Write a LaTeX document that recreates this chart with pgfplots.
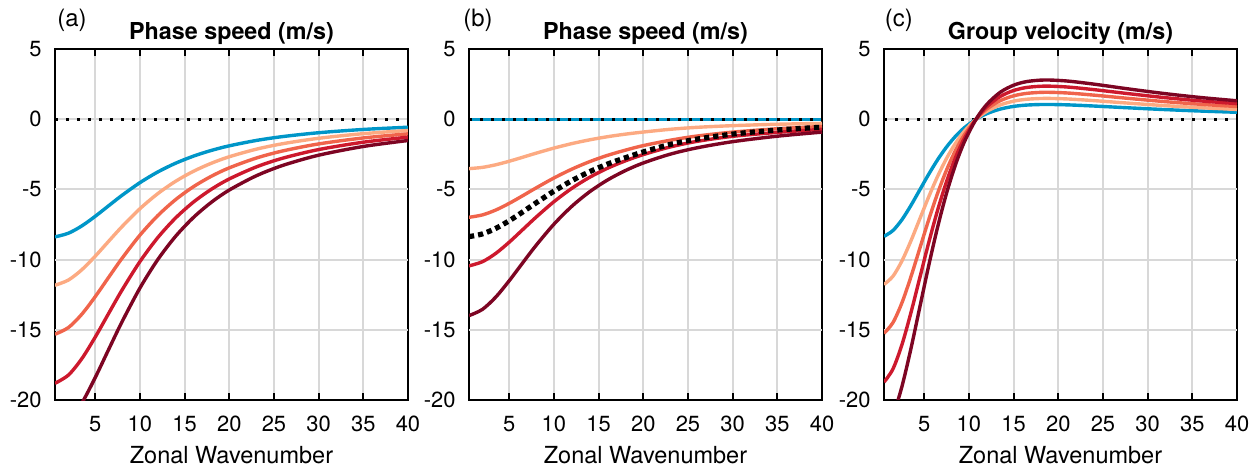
\documentclass[border=0pt]{standalone}
\usepackage{fontspec}
\setmainfont{TeX Gyre Heros}
\usepackage{pgfplots}
\pgfplotsset{compat=1.18}
\definecolor{cblue}{RGB}{0,150,200}
\definecolor{clo}{RGB}{252,170,130}
\definecolor{cor}{RGB}{240,100,75}
\definecolor{cred}{RGB}{205,25,45}
\definecolor{cdr}{RGB}{125,5,35}
\definecolor{cgrid}{RGB}{216,216,216}
\pgfplotsset{
  panel/.style={
    scale only axis, width=176.5bp, height=175.5bp,
    xmin=0.5, xmax=40, ymin=-20, ymax=5,
    xtick={5,10,15,20,25,30,35,40},
    xticklabels={5,10,15,20,25,30,35,40},
    ytick={-20,-15,-10,-5,0,5},
    yticklabels={-20,-15,-10,-5,0,5},
    xmajorgrids=true, ymajorgrids=true,
    major grid style={line width=1bp, color=cgrid},
    axis line style={line width=1.2bp},
    tick align=inside,
    major tick length=3.5bp,
    every tick/.style={black, line width=1bp},
    ticklabel style={font=\fontsize{11}{13}\selectfont},
    xticklabel style={anchor=base, yshift=-15.5bp},
    yticklabel style={anchor=east, inner sep=0pt, xshift=-6.5bp},
    xlabel={Zonal Wavenumber},
    xlabel style={at={(0.5,0)}, anchor=base, yshift=-31.5bp, font=\fontsize{11.8}{14}\selectfont},
    every axis plot/.append style={line width=1.7bp, smooth},
  },
  zeroline/.style={black, line width=1.6bp, dash pattern=on 1.6bp off 3.9bp, sharp plot},
  hgrid/.style={cgrid, line width=1bp, sharp plot, forget plot},
}
\newcommand{\hgrids}{%
  \addplot[hgrid] coordinates {(0.5,-15)(40,-15)};
  \addplot[hgrid] coordinates {(0.5,-10)(40,-10)};
  \addplot[hgrid] coordinates {(0.5,-5)(40,-5)};
  \addplot[hgrid] coordinates {(0.5,0)(40,0)};
}
\begin{document}
\begin{tikzpicture}
\path[use as bounding box] (-27.5bp,-36bp) rectangle (601.5bp,200bp);
% ---------- (a)
\begin{axis}[panel, at={(0bp,0bp)}, anchor=south west]
\hgrids
\addplot[zeroline] coordinates {(0.5,0) (40,0)};
\addplot[cblue] coordinates {(0.5,-8.382)(2,-8.121)(3.5,-7.601)(5,-6.917)(6.5,-6.166)(8,-5.423)(10,-4.522)(12,-3.758)(14,-3.133)(16,-2.629)(18,-2.223)(20,-1.896)(23,-1.517)(26,-1.236)(30,-0.963)(35,-0.730)(40,-0.571)};
\addplot[clo] coordinates {(0.5,-11.825)(2,-11.457)(3.5,-10.723)(5,-9.758)(6.5,-8.698)(8,-7.651)(10,-6.379)(12,-5.302)(14,-4.420)(16,-3.708)(18,-3.136)(20,-2.675)(23,-2.140)(26,-1.743)(30,-1.359)(35,-1.030)(40,-0.805)};
\addplot[cor] coordinates {(0.5,-15.317)(2,-14.841)(3.5,-13.891)(5,-12.640)(6.5,-11.267)(8,-9.910)(10,-8.263)(12,-6.868)(14,-5.726)(16,-4.804)(18,-4.062)(20,-3.465)(23,-2.772)(26,-2.258)(30,-1.761)(35,-1.334)(40,-1.043)};
\addplot[cred] coordinates {(0.5,-18.810)(2,-18.225)(3.5,-17.058)(5,-15.522)(6.5,-13.837)(8,-12.170)(10,-10.147)(12,-8.434)(14,-7.031)(16,-5.899)(18,-4.989)(20,-4.255)(23,-3.405)(26,-2.773)(30,-2.162)(35,-1.638)(40,-1.280)};
\addplot[cdr] coordinates {(0.5,-22.302)(2,-21.609)(3.5,-20.225)(5,-18.404)(6.5,-16.406)(8,-14.430)(10,-12.031)(12,-10.000)(14,-8.337)(16,-6.994)(18,-5.915)(20,-5.045)(23,-4.037)(26,-3.288)(30,-2.564)(35,-1.942)(40,-1.518)};
\end{axis}
% ---------- (b)
\begin{axis}[panel, at={(207bp,0bp)}, anchor=south west]
\hgrids
\addplot[cblue] coordinates {(0.5,0)(40,0)};
\addplot[zeroline] coordinates {(0.5,0) (40,0)};
\addplot[clo] coordinates {(0.5,-3.522)(2,-3.431)(3.5,-3.245)(5,-2.994)(6.5,-2.711)(8,-2.422)(10,-2.058)(12,-1.739)(14,-1.470)(16,-1.247)(18,-1.065)(20,-0.915)(23,-0.72)(26,-0.58)(30,-0.46)(35,-0.36)(40,-0.30)};
\addplot[cor] coordinates {(0.5,-6.988)(2,-6.817)(3.5,-6.468)(5,-5.994)(6.5,-5.454)(8,-4.897)(10,-4.189)(12,-3.560)(14,-3.023)(16,-2.575)(18,-2.205)(20,-1.880)(23,-1.50)(26,-1.20)(30,-0.92)(35,-0.68)(40,-0.52)};
\addplot[cred] coordinates {(0.5,-10.448)(2,-10.151)(3.5,-9.555)(5,-8.759)(6.5,-7.872)(8,-6.981)(10,-5.879)(12,-4.928)(14,-4.138)(16,-3.491)(18,-2.966)(20,-2.520)(23,-1.98)(26,-1.58)(30,-1.22)(35,-0.94)(40,-0.72)};
\addplot[cdr] coordinates {(0.5,-13.990)(2,-13.547)(3.5,-12.665)(5,-11.506)(6.5,-10.239)(8,-8.991)(10,-7.481)(12,-6.207)(14,-5.168)(16,-4.330)(18,-3.659)(20,-3.118)(23,-2.493)(26,-2.040)(30,-1.600)(35,-1.210)(40,-0.920)};
\addplot[black, line width=2.6bp, dash pattern=on 2.6bp off 2bp] coordinates {(0.5,-8.364)(2,-8.171)(3.5,-7.774)(5,-7.232)(6.5,-6.608)(8,-5.960)(10,-5.128)(12,-4.380)(14,-3.737)(16,-3.195)(18,-2.744)(20,-2.33)(23,-1.80)(26,-1.42)(30,-1.06)(35,-0.77)(40,-0.57)};
\end{axis}
% ---------- (c)
\begin{axis}[panel, at={(414.5bp,0bp)}, anchor=south west]
\hgrids
\addplot[zeroline] coordinates {(0.5,0) (40,0)};
\addplot[cblue] coordinates {(0.5,-8.346)(1.5,-7.929)(2.5,-7.162)(3.5,-6.156)(4.5,-5.039)(5.5,-3.922)(6.5,-2.886)(7.5,-1.978)(8.5,-1.218)(9.5,-0.603)(10.8,0)(12,0.395)(13.5,0.720)(15,0.910)(16.5,1.008)(18.5,1.050)(21,1.022)(24,0.938)(28,0.806)(32,0.683)(36,0.579)(40,0.493)};
\addplot[clo] coordinates {(0.5,-11.774)(1.5,-11.186)(2.5,-10.103)(3.5,-8.685)(4.5,-7.109)(5.5,-5.533)(6.5,-4.071)(7.5,-2.791)(8.5,-1.718)(9.5,-0.851)(10.8,0)(12,0.557)(13.5,1.016)(15,1.284)(16.5,1.422)(18.5,1.481)(21,1.442)(24,1.323)(28,1.137)(32,0.964)(36,0.817)(40,0.696)};
\addplot[cor] coordinates {(0.5,-15.252)(1.5,-14.489)(2.5,-13.087)(3.5,-11.250)(4.5,-9.208)(5.5,-7.167)(6.5,-5.274)(7.5,-3.615)(8.5,-2.226)(9.5,-1.102)(10.8,0)(12,0.722)(13.5,1.316)(15,1.663)(16.5,1.842)(18.5,1.918)(21,1.867)(24,1.714)(28,1.473)(32,1.248)(36,1.058)(40,0.901)};
\addplot[cred] coordinates {(0.5,-18.729)(1.5,-17.793)(2.5,-16.071)(3.5,-13.815)(4.5,-11.308)(5.5,-8.801)(6.5,-6.476)(7.5,-4.440)(8.5,-2.733)(9.5,-1.353)(10.8,0)(12,0.887)(13.5,1.616)(15,2.042)(16.5,2.263)(18.5,2.356)(21,2.293)(24,2.105)(28,1.808)(32,1.533)(36,1.299)(40,1.107)};
\addplot[cdr] coordinates {(0.5,-22.207)(1.5,-21.097)(2.5,-19.055)(3.5,-16.380)(4.5,-13.407)(5.5,-10.435)(6.5,-7.679)(7.5,-5.264)(8.5,-3.241)(9.5,-1.605)(10.8,0)(12,1.051)(13.5,1.916)(15,2.421)(16.5,2.683)(18.5,2.793)(21,2.719)(24,2.496)(28,2.144)(32,1.818)(36,1.540)(40,1.312)};
\end{axis}
% titles
\node[anchor=base, inner sep=0pt, font=\fontsize{11.7}{14}\selectfont\bfseries] at (88.25bp,180.3bp) {Phase speed (m/s)};
\node[anchor=base, inner sep=0pt, font=\fontsize{11.7}{14}\selectfont\bfseries] at (295.25bp,180.3bp) {Phase speed (m/s)};
\node[anchor=base, inner sep=0pt, font=\fontsize{11.7}{14}\selectfont\bfseries] at (502.75bp,180.3bp) {Group velocity (m/s)};
% panel letters
\node[anchor=base west, inner sep=0pt, font=\fontsize{12}{14}\selectfont] at (1bp,186.5bp) {(a)};
\node[anchor=base west, inner sep=0pt, font=\fontsize{12}{14}\selectfont] at (204bp,186.5bp) {(b)};
\node[anchor=base west, inner sep=0pt, font=\fontsize{12}{14}\selectfont] at (414.75bp,186.5bp) {(c)};
\end{tikzpicture}
\end{document}
